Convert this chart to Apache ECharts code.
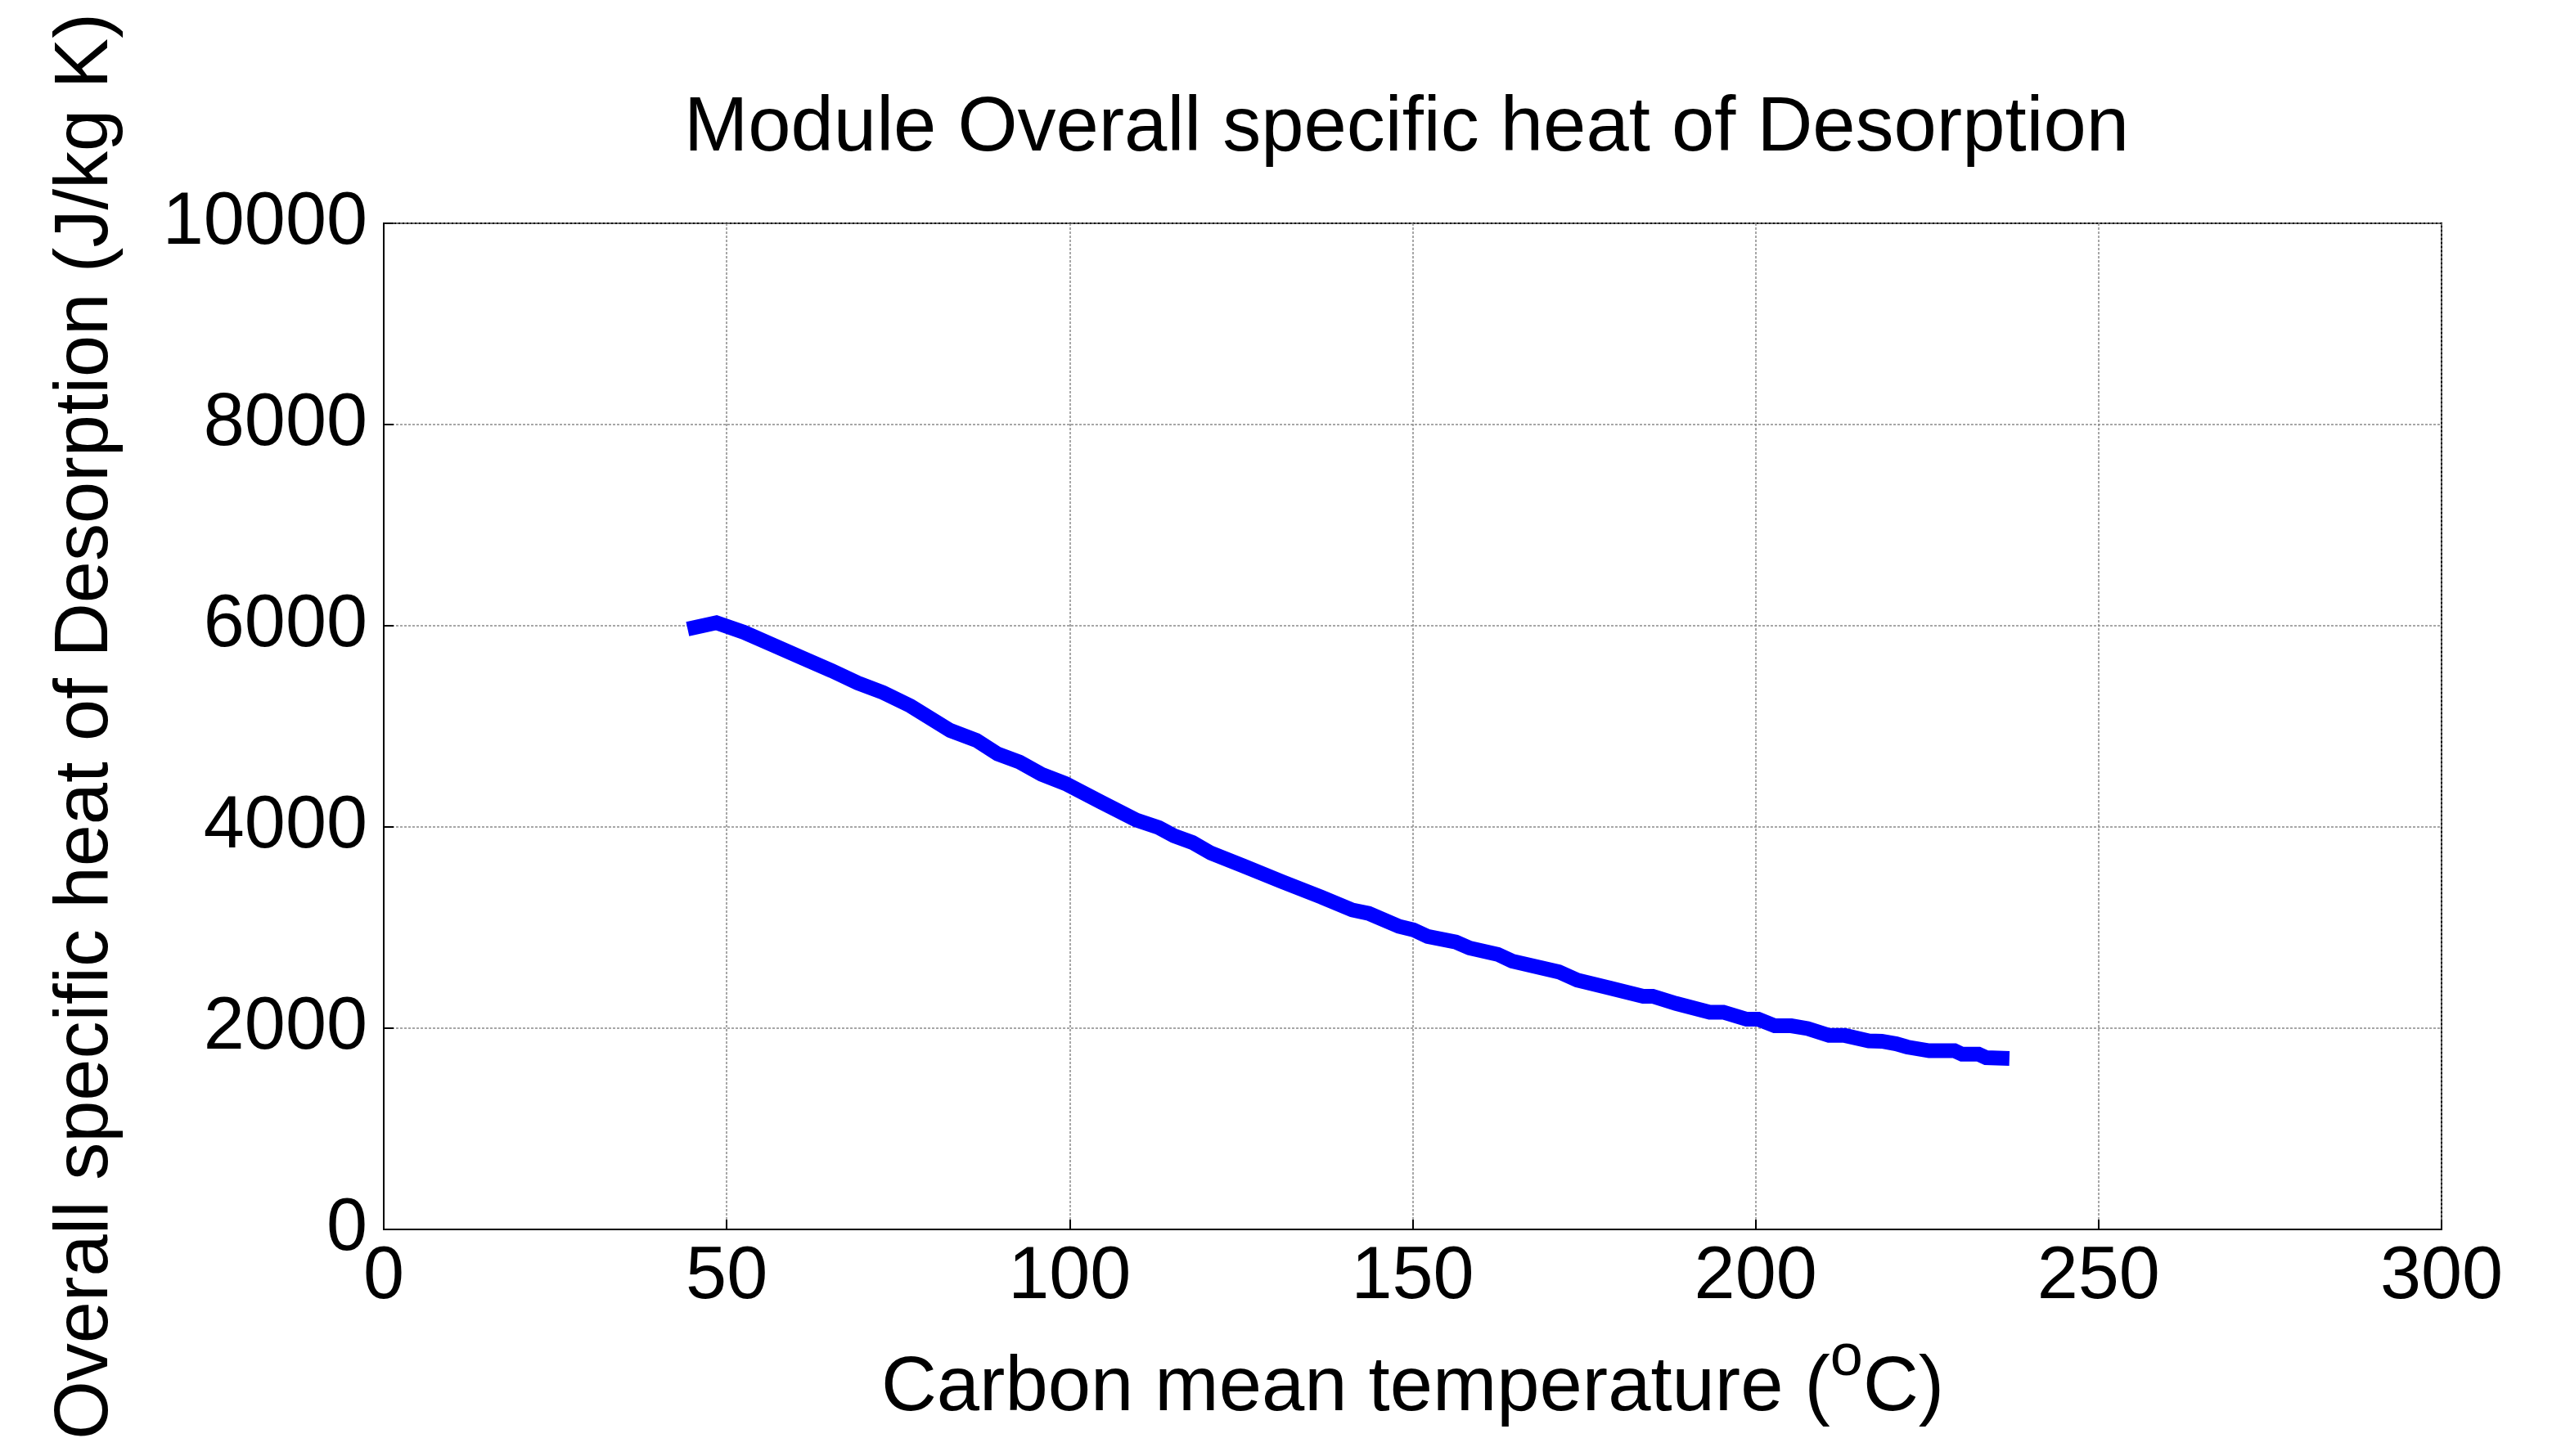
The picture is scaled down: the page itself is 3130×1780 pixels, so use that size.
<!DOCTYPE html>
<html>
<head>
<meta charset="utf-8">
<script src="https://cdn.jsdelivr.net/npm/echarts@6/dist/echarts.min.js"></script>
<style>html,body{margin:0;padding:0;background:#fff;}#c{width:3130px;height:1780px;}</style>
</head>
<body>
<div id="c"></div>
<script>
const temperature = [44.3, 48.5, 52.5, 57, 61, 65.3, 69.1, 72.8, 76.8, 82.6, 86.4, 89.5, 92.7, 95.9, 99.4, 104.5, 109.7, 113, 115.2, 117.9, 120.6, 125.4, 131, 136.7, 141.2, 143.6, 148, 150.1, 152.2, 156.3, 158.3, 162.4, 164.5, 171.3, 174, 178.8, 183.6, 185, 188.4, 193.3, 195.3, 198.7, 200.4, 202.8, 205.2, 207.6, 210.7, 213, 216.5, 218.4, 220.5, 222.1, 225.3, 229, 230.1, 232.5, 233.6, 237];
const heatValues = [5967, 6030, 5935, 5800, 5680, 5553, 5431, 5336, 5203, 4959, 4862, 4726, 4645, 4523, 4431, 4250, 4069, 3994, 3913, 3846, 3740, 3610, 3455, 3303, 3175, 3141, 3012, 2978, 2911, 2856, 2797, 2734, 2667, 2560, 2478, 2398, 2317, 2317, 2246, 2159, 2159, 2089, 2089, 2024, 2024, 1996, 1928, 1928, 1874, 1870, 1845, 1813, 1776, 1776, 1741, 1741, 1707, 1700];
const xTicks = [0, 50, 100, 150, 200, 250, 300];
const yTicks = [0, 2000, 4000, 6000, 8000, 10000];
const titleText = 'Module Overall specific heat of Desorption';
const yName = 'Overall specific heat of Desorption (J/kg K)';

const chart = echarts.init(document.getElementById('c'));
const font = 'Liberation Sans, Arial, Helvetica, sans-serif';
const points = temperature.map((t, i) => [t, heatValues[i]]);
chart.setOption({
  backgroundColor: '#fff',
  animation: false,
  title: {
    text: titleText,
    left: 1714,
    textAlign: 'center',
    top: 106,
    textStyle: { fontFamily: font, fontSize: 94, fontWeight: 'normal', color: '#000' }
  },
  grid: { left: 469, right: 146, top: 273, bottom: 277, show: true, borderColor: '#000', borderWidth: 2, backgroundColor: '#fff' },
  xAxis: {
    type: 'value', min: xTicks[0], max: xTicks[xTicks.length - 1], interval: 50,
    name: '{n|Carbon mean temperature (}{sup|o}{n|C)}',
    nameLocation: 'middle', nameGap: 130,
    nameTextStyle: {
      fontFamily: font, fontSize: 94, color: '#000',
      rich: {
        n: { fontFamily: font, fontSize: 94, color: '#000', lineHeight: 112, verticalAlign: 'bottom' },
        sup: { fontFamily: font, fontSize: 72, color: '#000', lineHeight: 72, verticalAlign: 'bottom', padding: [0, 0, 48, 0] }
      }
    },
    axisLine: { show: true, lineStyle: { color: '#000', width: 2 } },
    axisTick: { show: true, inside: true, length: 12, lineStyle: { color: '#000', width: 2 } },
    axisLabel: { fontFamily: font, fontSize: 90, color: '#000', margin: 14, formatter: v => String(v) },
    splitLine: { show: true, lineStyle: { color: '#8a8a8a', width: 1.5, type: [3, 2] } }
  },
  yAxis: {
    type: 'value', min: yTicks[0], max: yTicks[yTicks.length - 1], interval: 2000,
    name: yName,
    nameLocation: 'middle', nameGap: 317,
    nameTextStyle: { fontFamily: font, fontSize: 92, color: '#000' },
    axisLine: { show: true, lineStyle: { color: '#000', width: 2 } },
    axisTick: { show: true, inside: true, length: 12, lineStyle: { color: '#000', width: 2 } },
    axisLabel: { fontFamily: font, fontSize: 90, color: '#000', margin: 20, formatter: v => String(v) },
    splitLine: { show: true, lineStyle: { color: '#8a8a8a', width: 1.5, type: [3, 2] } }
  },
  series: [{
    type: 'line',
    data: points,
    showSymbol: false,
    lineStyle: { color: '#0000ff', width: 18, cap: 'butt', join: 'miter' },
    z: 3
  }]
});
</script>
</body>
</html>
